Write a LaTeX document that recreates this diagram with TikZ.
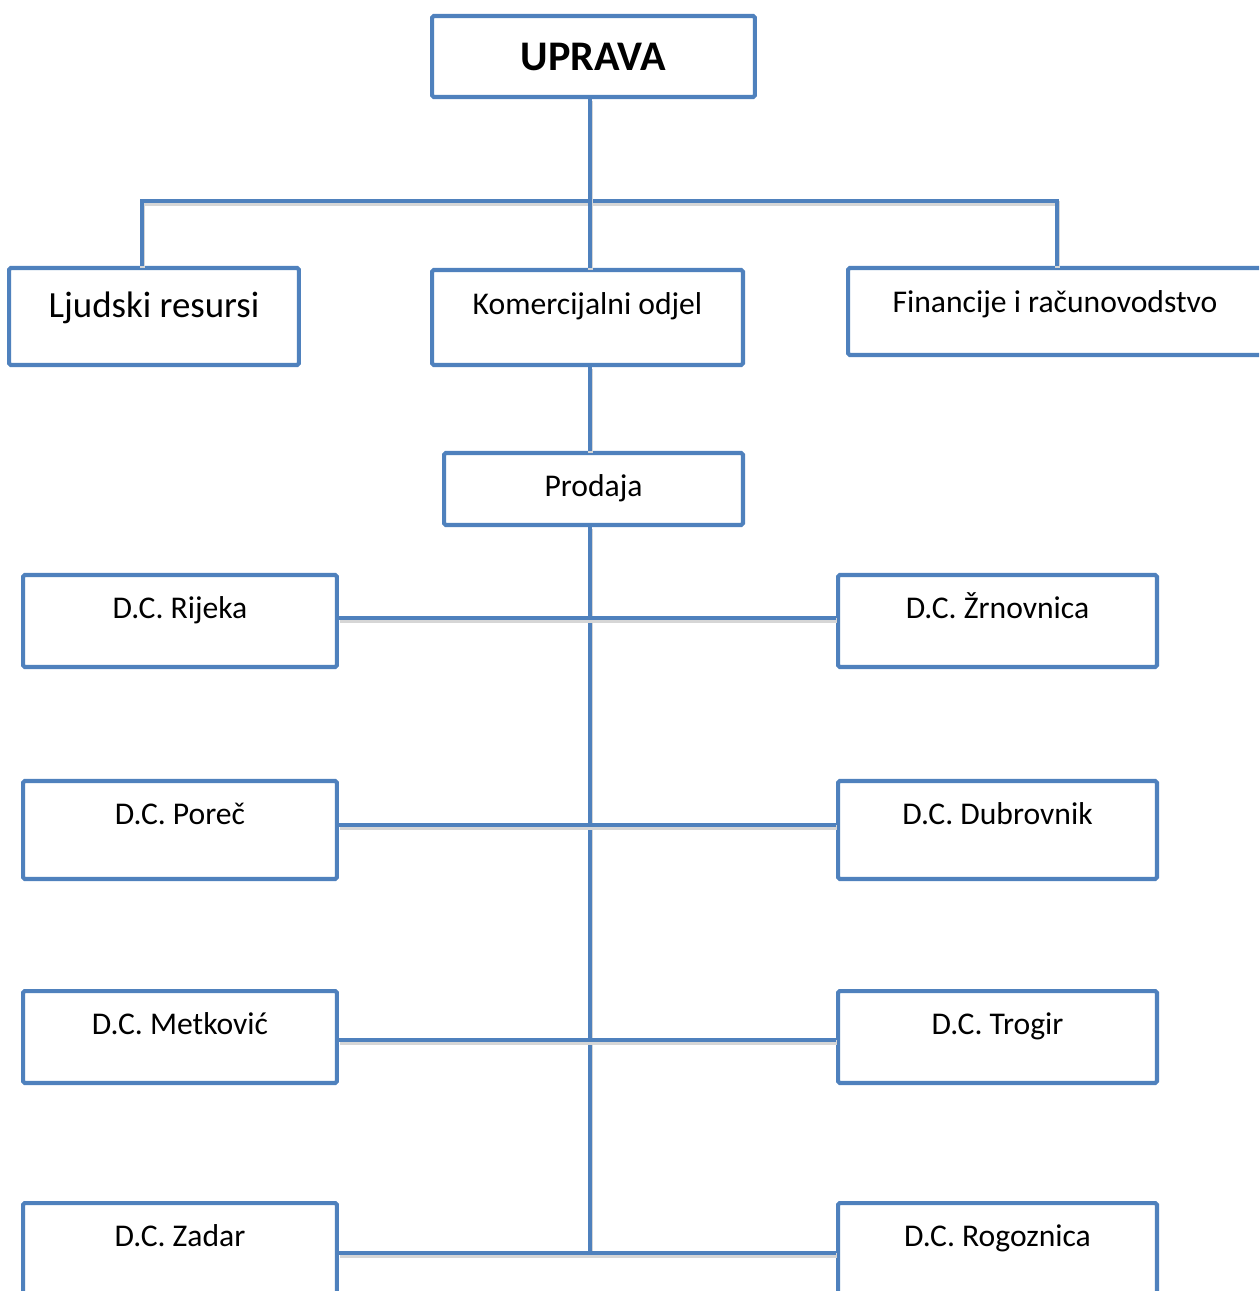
\documentclass[tikz,border=0pt]{standalone}
\usepackage{fontspec}
\setmainfont{Carlito}
\usetikzlibrary{calc}
\definecolor{orgblue}{HTML}{4F81BD}

\begin{document}
\begin{tikzpicture}[x=0.02cm, y=-0.02cm]
    \tikzstyle{orgbox}=[draw=orgblue, line width=2.3pt, fill=white, rounded corners=1pt, inner sep=0pt]
    \tikzstyle{lbl}=[anchor=base, inner sep=0pt, font=\fontsize{18}{22}\selectfont]
    \tikzstyle{link}=[draw=orgblue, line width=2.5pt,
        preaction={draw=black!16, line width=2.8pt, transform canvas={shift={(0.4pt,-1.4pt)}}}]

    \useasboundingbox (0, 0) rectangle (1259, 1291);
    \clip (0, 0) rectangle (1259, 1291);

    % top level
    \node[orgbox, minimum width=6.46cm, minimum height=1.62cm, font=\fontsize{24}{28}\selectfont\bfseries] (uprava) at (593.5, 56.5) {UPRAVA};

    \node[orgbox, minimum width=5.8cm, minimum height=1.94cm] (ljudski) at (154, 316.5) {};
    \node[orgbox, minimum width=6.22cm, minimum height=1.9cm] (komerc) at (587.5, 317.5) {};
    \node[orgbox, minimum width=8.28cm, minimum height=1.74cm] (financ) at (1055, 311.5) {};
    \node[orgbox, minimum width=5.98cm, minimum height=1.44cm] (prodaja) at (593.5, 489) {};

    \node[lbl, font=\fontsize{21}{25}\selectfont] (tljudski) at ([yshift=-1.04cm]ljudski.north) {Ljudski resursi};
    \node[lbl] (tkomerc) at ([yshift=-0.94cm]komerc.north) {Komercijalni odjel};
    \node[lbl] (tfinanc) at ([yshift=-0.94cm]financ.north) {Financije i računovodstvo};
    \node[lbl] (tprodaja) at ([yshift=-0.92cm]prodaja.north) {Prodaja};

    \coordinate (jmid) at (590, 201);
    \coordinate (jl) at (142, 201);
    \coordinate (jr) at (1057, 201);
    \coordinate (spine) at (590, 1253);

    \draw[link] (ljudski.north -| jl) -- (jl) -- (jr) -- (financ.north -| jr);
    \draw[link] (uprava.south -| jmid) -- (komerc.north -| jmid);
    \draw[link] (komerc.south -| jmid) -- (prodaja.north -| jmid);
    \draw[link] (prodaja.south -| jmid) -- (spine);

    % distribution centres
    \foreach \i/\yy/\ly/\hh/\lname/\rname in {1/621/618/1.84/{D.C. Rijeka}/{D.C. Žrnovnica},
            2/830/825/1.96/{D.C. Poreč}/{D.C. Dubrovnik},
            3/1037/1040/1.84/{D.C. Metković}/{D.C. Trogir},
            4/1249/1253/1.84/{D.C. Zadar}/{D.C. Rogoznica}} {
        \node[orgbox, minimum width=6.28cm, minimum height=\hh cm] (dcl\i) at (180, \yy) {};
        \node[orgbox, minimum width=6.38cm, minimum height=\hh cm] (dcr\i) at (997.5, \yy) {};
        \coordinate (row\i) at (590, \ly);
        \draw[link] (dcl\i.east |- row\i) -- (dcr\i.west |- row\i);
        \node[lbl] (tdcl\i) at ([yshift=-0.92cm]dcl\i.north) {\lname};
        \node[lbl] (tdcr\i) at ([yshift=-0.92cm]dcr\i.north) {\rname};
    }

\end{tikzpicture}
\end{document}
